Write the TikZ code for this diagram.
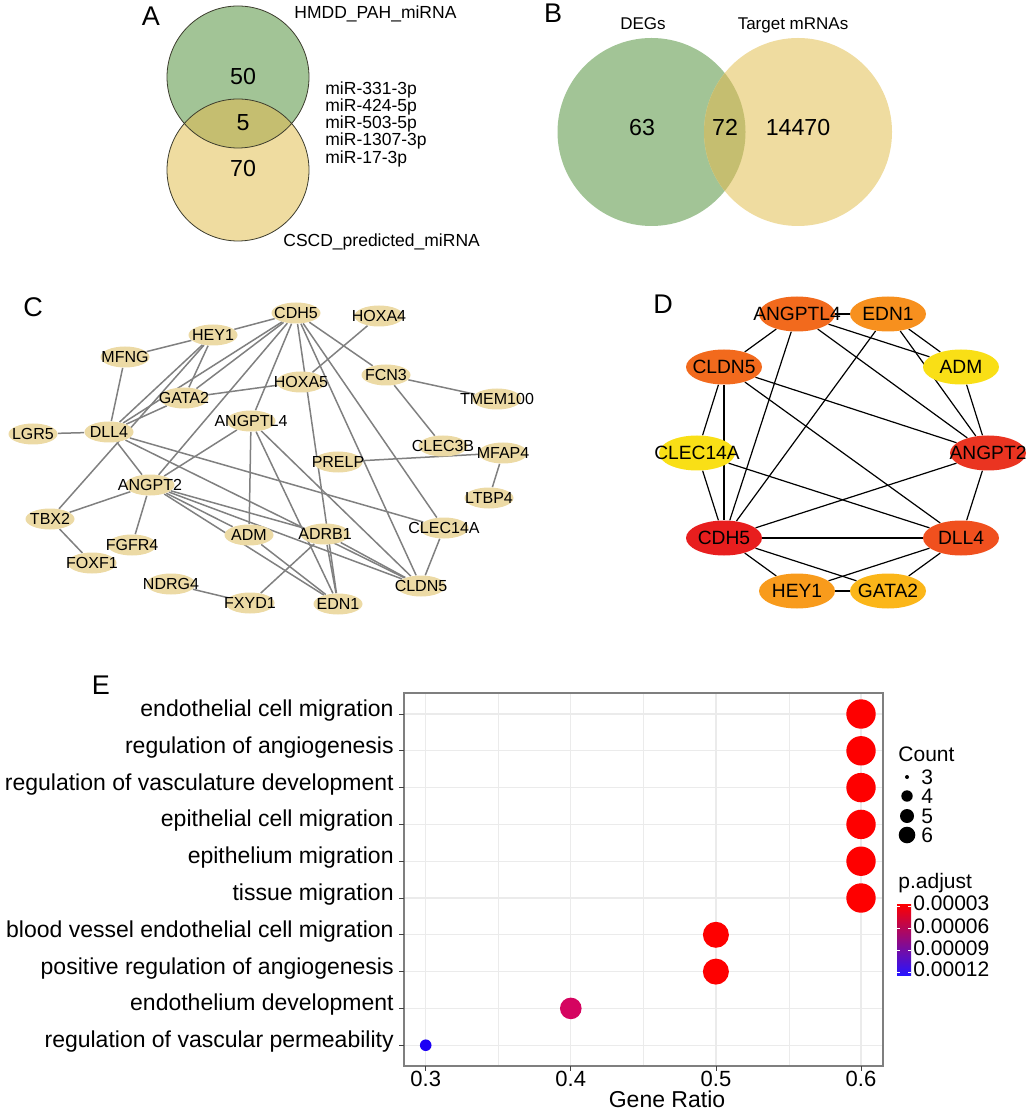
\documentclass[tikz,border=0pt]{standalone}
\usepackage{fontspec}
\setmainfont{Liberation Sans}
\usetikzlibrary{shapes.geometric}
\definecolor{venngreen}{RGB}{162,196,150}
\definecolor{vennyellow}{RGB}{239,220,160}
\definecolor{vennmix}{RGB}{197,190,112}
\definecolor{vennline}{RGB}{60,60,45}
\definecolor{genefill}{RGB}{236,218,165}
\definecolor{edgegray}{RGB}{128,128,128}
\definecolor{hubA}{RGB}{232,30,30}
\definecolor{hubB}{RGB}{234,52,33}
\definecolor{hubC}{RGB}{240,80,30}
\definecolor{hubD}{RGB}{242,106,29}
\definecolor{hubE}{RGB}{247,144,30}
\definecolor{hubF}{RGB}{248,155,28}
\definecolor{hubG}{RGB}{251,182,25}
\definecolor{hubH}{RGB}{249,223,22}
\definecolor{gridgray}{RGB}{235,235,235}
\definecolor{framegray}{RGB}{127,127,127}
\definecolor{dotred}{RGB}{254,0,0}
\definecolor{dotmag}{RGB}{213,4,96}
\definecolor{dotblue}{RGB}{28,0,245}
\definecolor{cbmid}{RGB}{170,0,140}
\definecolor{cbblue}{RGB}{40,20,255}
\pgfdeclarelayer{edges}
\pgfsetlayers{edges,main}
\tikzset{
  panel/.style={font=\fontsize{13.5pt}{16pt}\selectfont,inner sep=0},
  vennlab/.style={font=\fontsize{8.75pt}{10pt}\selectfont,inner sep=0},
  vennnum/.style={font=\fontsize{11.6pt}{14pt}\selectfont,inner sep=0},
  cgene/.style={ellipse,fill=genefill,minimum width=24.5pt,minimum height=10.5pt,inner sep=0,font=\fontsize{8pt}{9pt}\selectfont},
  dgene/.style={ellipse,minimum width=38pt,minimum height=17.5pt,inner sep=0,font=\fontsize{9.6pt}{11pt}\selectfont},
  cedge/.style={edgegray,line width=0.75pt},
  dedge/.style={black,line width=0.6pt},
  term/.style={font=\fontsize{11.5pt}{13pt}\selectfont,inner sep=0},
  legend/.style={font=\fontsize{10.5pt}{12pt}\selectfont,inner sep=0}
}
\begin{document}
\begin{tikzpicture}[x=0.5pt,y=-0.5pt]
\useasboundingbox (0,0) rectangle (1029,1111);

% panel A
\node[panel,anchor=base] (labA) at (151,26) {A};
\fill[venngreen] (238,77) circle (71);
\fill[vennyellow] (238,170) circle (71);
\begin{scope}
  \clip (238,77) circle (71);
  \fill[vennmix] (238,170) circle (71);
\end{scope}
\draw[vennline,line width=0.4pt] (238,77) circle (71);
\draw[vennline,line width=0.4pt] (238,170) circle (71);
\node[vennnum,anchor=base] (nA1) at (243,85) {50};
\node[vennnum,anchor=base] (nA2) at (243,130.7) {5};
\node[vennnum,anchor=base] (nA3) at (243,176.7) {70};
\node[vennlab,anchor=base west] (hmdd) at (294,18.3) {HMDD\_PAH\_miRNA};
\node[vennlab,anchor=base west] (cscd) at (283,246.7) {CSCD\_predicted\_miRNA};
\foreach \i/\m/\y in {1/miR-331-3p/95,2/miR-424-5p/111.7,3/miR-503-5p/129,4/miR-1307-3p/145.7,5/miR-17-3p/163.3}
  \node[vennlab,anchor=base west] (mir\i) at (325,\y) {\m};

% panel B
\node[panel,anchor=base] (labB) at (553,22.7) {B};
\fill[venngreen] (651.5,132) circle (94);
\fill[vennyellow] (798,132) circle (94);
\begin{scope}
  \clip (651.5,132) circle (94);
  \fill[vennmix] (798,132) circle (94);
\end{scope}
\node[vennlab,anchor=base,font=\fontsize{8.5pt}{10pt}\selectfont] (degs) at (643,29.3) {DEGs};
\node[vennlab,anchor=base,font=\fontsize{8.5pt}{10pt}\selectfont] (targ) at (793,29.3) {Target mRNAs};
\node[vennnum,anchor=base] (nB1) at (642,136) {63};
\node[vennnum,anchor=base] (nB2) at (725,136) {72};
\node[vennnum,anchor=base] (nB3) at (798,136) {14470};

% panel C
\node[panel,anchor=base] (labC) at (33,316.7) {C};
\foreach \n/\x/\y in {CDH5/296/313,HOXA4/379/316,HEY1/213/335,MFNG/125/357,FCN3/386/375,
    HOXA5/301/382,GATA2/184/398,TMEM100/497/399,ANGPTL4/251/421,DLL4/109/432,LGR5/33/434,
    CLEC3B/443/446,MFAP4/503/453,PRELP/338/462,ANGPT2/150/485,LTBP4/489/498,TBX2/50/519,
    CLEC14A/444/528,ADRB1/325/534,ADM/249/535,FGFR4/132/545,FOXF1/92/563,NDRG4/171/584,
    CLDN5/421/586,FXYD1/250/603,EDN1/338/604}
  \node[cgene] (c\n) at (\x,\y) {\makebox[0pt]{\n}};
\begin{pgfonlayer}{edges}
\foreach \a/\b in {HEY1/CDH5,MFNG/HEY1,MFNG/DLL4,LGR5/DLL4,DLL4/HEY1,DLL4/CDH5,DLL4/GATA2,
    TBX2/HEY1,GATA2/HEY1,GATA2/CDH5,GATA2/HOXA5,ANGPTL4/CDH5,ANGPT2/CDH5,ANGPT2/ANGPTL4,
    ANGPT2/DLL4,ANGPT2/TBX2,ANGPT2/FGFR4,ANGPT2/ADM,ANGPT2/ADRB1,ANGPT2/CLDN5,ANGPT2/EDN1,
    TBX2/FOXF1,DLL4/CLEC14A,DLL4/CLDN5,ANGPTL4/ADM,ANGPTL4/EDN1,ANGPTL4/CLDN5,ADM/EDN1,
    NDRG4/FXYD1,FXYD1/ADRB1,ADRB1/EDN1,ADRB1/CLDN5,CDH5/EDN1,CDH5/CLDN5,CDH5/CLEC14A,
    CDH5/FCN3,HOXA4/HOXA5,FCN3/TMEM100,FCN3/CLEC3B,PRELP/MFAP4,MFAP4/LTBP4,CLEC14A/CLDN5}
  \draw[cedge] (c\a) -- (c\b);
\end{pgfonlayer}

% panel D
\node[panel,anchor=base] (labD) at (663,313.3) {D};
\foreach \n/\x/\y/\c in {ANGPTL4/797/314/hubD,EDN1/888/314/hubE,CLDN5/724/367/hubD,
    ADM/961/367/hubH,CLEC14A/697/453/hubH,ANGPT2/988/453/hubB,CDH5/724/538/hubA,
    DLL4/961/538/hubC,HEY1/797/591/hubF,GATA2/888/591/hubG}
  \node[dgene,fill=\c] (d\n) at (\x,\y) {\makebox[0pt]{\n}};
\begin{pgfonlayer}{edges}
\foreach \a/\b in {ANGPTL4/EDN1,ANGPTL4/CLDN5,ANGPTL4/CDH5,ANGPTL4/ADM,ANGPTL4/ANGPT2,
    EDN1/CDH5,EDN1/ADM,EDN1/ANGPT2,ADM/ANGPT2,CLDN5/ANGPT2,CLDN5/DLL4,CLDN5/CLEC14A,
    CLDN5/CDH5,CLEC14A/CDH5,CLEC14A/DLL4,ANGPT2/CDH5,ANGPT2/DLL4,CDH5/DLL4,CDH5/HEY1,
    CDH5/GATA2,DLL4/HEY1,DLL4/GATA2,HEY1/GATA2}
  \draw[dedge] (d\a) -- (d\b);
\end{pgfonlayer}

% panel E
\node[panel,anchor=base] (labE) at (101,694) {E};
\foreach \x in {498,643,789}
  \draw[gridgray,line width=0.3pt] (\x,693) -- (\x,1066);
\foreach \x in {425.7,570.7,716,861}
  \draw[gridgray,line width=0.55pt] (\x,693) -- (\x,1066);
\foreach \i in {1,...,10}
  \draw[gridgray,line width=0.55pt] (404,{714+(\i-1)*36.8}) -- (883,{714+(\i-1)*36.8});
\draw[framegray,line width=0.65pt] (404,693) rectangle (883,1066);
\foreach \i/\t in {1/endothelial cell migration,2/regulation of angiogenesis,
    3/regulation of vasculature development,4/epithelial cell migration,
    5/epithelium migration,6/tissue migration,7/blood vessel endothelial cell migration,
    8/positive regulation of angiogenesis,9/endothelium development,
    10/regulation of vascular permeability}
{
  \node[term,anchor=base east] (term\i) at (394,{716.5+(\i-1)*36.8}) {\t};
  \draw[black!75,line width=0.5pt] (399,{714+(\i-1)*36.8}) -- (404,{714+(\i-1)*36.8});
}
\foreach \x/\t in {425.7/0.3,570.7/0.4,716/0.5,861/0.6}
{
  \draw[black!75,line width=0.5pt] (\x,1066) -- (\x,1071);
  \node[term,anchor=base,font=\fontsize{11pt}{13pt}\selectfont] (tick\t) at (\x,1086) {\t};
}
\node[term,anchor=base] (xlab) at (667,1107) {Gene Ratio};
\foreach \i/\g/\r/\c in {1/0.6/14.7/dotred,2/0.6/14.7/dotred,3/0.6/14.7/dotred,
    4/0.6/14.7/dotred,5/0.6/14.7/dotred,6/0.6/14.7/dotred,7/0.5/13/dotred,
    8/0.5/13/dotred,9/0.4/10.8/dotmag,10/0.3/5.8/dotblue}
  \node[circle,fill=\c,inner sep=0,minimum size=\r pt] (dot\i) at ({425.7+(\g-0.3)*1451},{714+(\i-1)*36.8}) {};

% legend
\node[legend,anchor=base west] (cnt) at (898,761.7) {Count};
\foreach \k/\y/\r in {3/777/2,4/796/5.7,5/816/7,6/835/8.3}
{
  \node[circle,fill=black,inner sep=0,minimum size=\r pt] (key\k) at (907,\y) {};
  \node[legend,anchor=west] (keylab\k) at (921,\y) {\k};
}
\node[legend,anchor=base west] (padj) at (898,888) {p.adjust};
\shade[top color=dotred,middle color=cbmid,bottom color=cbblue] (897,904) rectangle (911,975);
\foreach \y/\t in {910.7/0.00003,933/0.00006,955/0.00009,976.7/0.00012}
{
  \node[legend,anchor=base west] (cb\t) at (913,\y) {\t};
}
\foreach \y in {906,928,950,972}
{
  \draw[white,line width=0.3pt] (897,\y) -- (900,\y);
  \draw[white,line width=0.3pt] (908,\y) -- (911,\y);
}
\end{tikzpicture}
\end{document}
